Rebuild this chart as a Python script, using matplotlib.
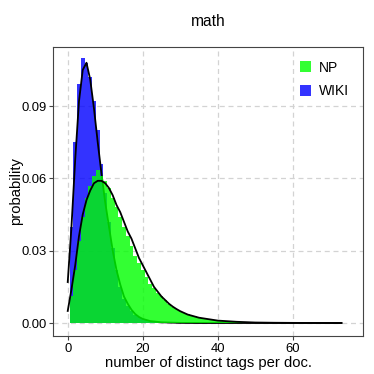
import numpy as np
import matplotlib
matplotlib.use("Agg")
import matplotlib.pyplot as plt
from matplotlib.patches import Patch

plt.rcParams["font.family"] = ["Liberation Sans", "DejaVu Sans"]

# histogram: number of distinct tags per doc (bin centres) and probability
wiki_tags = np.arange(1, 26)
wiki_prob = [0.040, 0.075, 0.099, 0.110, 0.108, 0.102, 0.092, 0.080, 0.066, 0.054,
             0.042, 0.031, 0.022, 0.015, 0.010, 0.007, 0.005, 0.0035, 0.0025, 0.0018,
             0.0012, 0.0008, 0.0005, 0.0003, 0.0002]

np_tags = np.arange(1, 50)
np_prob = [0.011, 0.022, 0.034, 0.044, 0.052, 0.057, 0.061, 0.0635, 0.061, 0.059,
           0.056, 0.052, 0.048, 0.044, 0.040, 0.036, 0.032, 0.028, 0.025, 0.022,
           0.019, 0.016, 0.0145, 0.0125, 0.011, 0.0095, 0.008, 0.0068, 0.0058, 0.0049,
           0.0042, 0.0036, 0.0031, 0.0027, 0.0023, 0.002, 0.0017, 0.0014, 0.0012, 0.001,
           0.0008, 0.0007, 0.0006, 0.0005, 0.0004, 0.0003, 0.0003, 0.0002, 0.0002]

# fitted density curves
wiki_fit_x = [0, 1, 2, 3, 4, 5, 6, 7, 8, 9, 10, 11, 12, 13, 14, 15, 16, 17, 18, 19, 20,
              22, 25, 30, 35, 73]
wiki_fit_y = [0.017, 0.040, 0.068, 0.092, 0.105, 0.108, 0.101, 0.089, 0.075, 0.062, 0.050,
              0.040, 0.030, 0.022, 0.016, 0.011, 0.008, 0.0055, 0.0037, 0.0025, 0.0017,
              0.0008, 0.0003, 0.00005, 0.0, 0.0]

np_fit_x = [0, 1, 2, 3, 4, 5, 6, 7, 8, 9, 10, 11, 12, 13, 14, 15, 16, 17, 18, 19, 20,
            21, 22, 23, 24, 25, 26, 27, 28, 29, 30, 32, 35, 40, 45, 50, 55, 60, 65, 73]
np_fit_y = [0.005, 0.014, 0.024, 0.036, 0.045, 0.051, 0.055, 0.058, 0.059, 0.059, 0.058,
            0.056, 0.053, 0.049, 0.046, 0.042, 0.038, 0.035, 0.031, 0.027, 0.024,
            0.021, 0.018, 0.015, 0.013, 0.011, 0.0095, 0.008, 0.0068, 0.0058, 0.0049,
            0.0035, 0.0022, 0.0010, 0.0005, 0.0002, 0.0001, 0.00005, 0.00002, 0.0]

xticks = [0, 20, 40, 60]
yticks = [0.0, 0.03, 0.06, 0.09]

fig = plt.figure(figsize=(3.74, 3.74), dpi=100)
ax = fig.add_axes([0.1426, 0.1024, 0.8288, 0.7727])

wiki_edges = np.append(wiki_tags - 0.5, wiki_tags[-1] + 0.5)
np_edges = np.append(np_tags - 0.5, np_tags[-1] + 0.5)

# WIKI first (histogram + fit), then NP drawn over it
ax.stairs(wiki_prob, wiki_edges, fill=True, color="#0000ff", alpha=0.8, linewidth=0, zorder=1)
ax.plot(wiki_fit_x, wiki_fit_y, color="black", lw=1.3, zorder=2)
ax.stairs(np_prob, np_edges, fill=True, color="#00ff00", alpha=0.8, linewidth=0, zorder=3)
ax.plot(np_fit_x, np_fit_y, color="black", lw=1.3, zorder=4)

ax.set_xlim(-3.84, 78.83)
ax.set_ylim(-0.00527, 0.11465)
ax.set_xticks(xticks)
ax.set_yticks(yticks)
ax.set_yticklabels([f"{v:.2f}" for v in yticks])

ax.set_axisbelow(True)
ax.grid(True, color="#d3d3d3", linestyle=(0, (4, 3)), linewidth=0.9)
for s in ax.spines.values():
    s.set_color("#444444")
    s.set_linewidth(0.8)
    s.set_zorder(5)
ax.tick_params(colors="#444444", labelcolor="black", labelsize=9.4, length=3, width=0.8, pad=2)

ax.set_xlabel("number of distinct tags per doc.", fontsize=10.6)
ax.xaxis.set_label_coords(0.5, -0.07)
ax.set_ylabel("probability", fontsize=10.6)
ax.yaxis.set_label_coords(-0.099, 0.5)

fig.text(0.557, 1 - 21 / 374, "math", ha="center", va="center", fontsize=11.2)

handles = [Patch(facecolor="#00ff00", alpha=0.8, edgecolor="none", label="NP"),
           Patch(facecolor="#0000ff", alpha=0.8, edgecolor="none", label="WIKI")]
leg = ax.legend(handles=handles, loc="upper right", frameon=False, fontsize=10,
                handlelength=0.8, handleheight=0.8, handletextpad=0.6, labelspacing=0.7,
                borderaxespad=0.6)
leg.set_zorder(6)

fig.savefig("out.png", dpi=100)
